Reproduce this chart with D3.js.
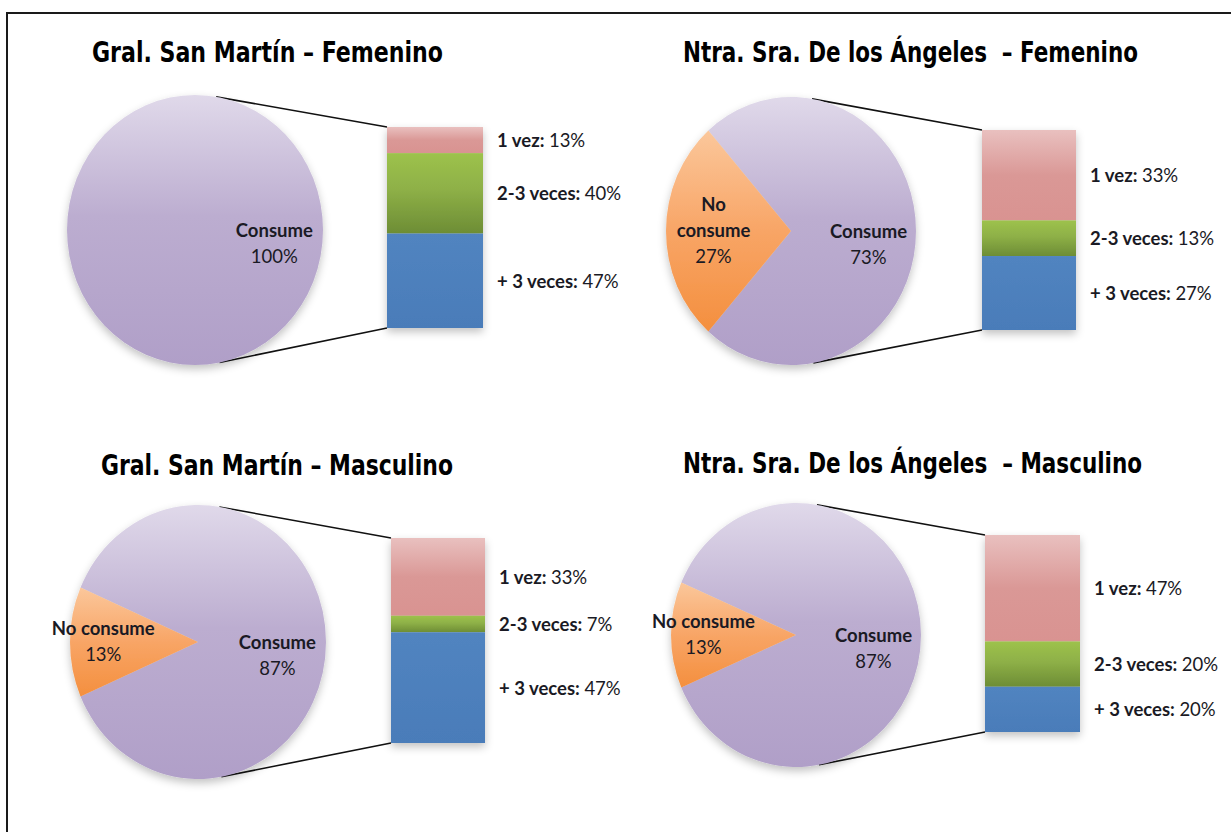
<!DOCTYPE html>
<html>
<head>
<meta charset="utf-8">
<script src="https://cdn.jsdelivr.net/npm/d3@7"></script>
<style>
  html, body { margin: 0; padding: 0; background: #fff; }
  svg { display: block; }
  .title { font-family: "Liberation Sans Narrow", "DejaVu Sans Condensed", sans-serif; font-weight: bold; font-size: 28px; fill: #000; white-space: pre; }
  .lbl { font-family: Lato, "Open Sans", sans-serif; font-size: 18.5px; fill: #1a1a24; }
</style>
</head>
<body>
<svg id="chart" width="1231" height="832" viewBox="0 0 1231 832"></svg>
<script>
const chartTitles = [
  "Gral. San Martín – Femenino",
  "Ntra. Sra. De los Ángeles  – Femenino",
  "Gral. San Martín – Masculino",
  "Ntra. Sra. De los Ángeles  – Masculino"
];
const pieCategories = ["Consume", "No consume"];
const pieValues = [[100, 0], [73, 27], [87, 13], [87, 13]];
const barCategories = ["1 vez", "2-3 veces", "+ 3 veces"];
const barValues = [[13, 40, 47], [33, 13, 27], [33, 7, 47], [47, 20, 20]];
// "No consume" is split over two lines in the second chart
const wrappedLabels = [false, true, false, false];

// layout of the four panels (pie ellipse, bar box, title)
const panels = [
  { cx: 195, cy: 230, rx: 128, ry: 135, bar: [387, 127, 483, 328], titleX: 92, titleY: 62, titleW: 351 },
  { cx: 791, cy: 231, rx: 125, ry: 134, bar: [982, 130, 1076, 330], titleX: 683, titleY: 62, titleW: 455 },
  { cx: 198, cy: 642, rx: 128, ry: 137, bar: [391, 538, 485, 743], titleX: 101, titleY: 475, titleW: 352 },
  { cx: 796, cy: 635, rx: 125, ry: 132, bar: [985, 535, 1080, 732], titleX: 683, titleY: 473, titleW: 459 }
];

const pieFills = ["url(#gPurple)", "url(#gOrange)"];
const barFills = ["url(#gPink)", "url(#gGreen)", "url(#gBlue)"];
const labelDrop = { "Consume": 14, "No consume": 0 };
const lineHeight = 26;

const svg = d3.select("#chart");
const defs = svg.append("defs");

function addGradient(id, stops) {
  const grad = defs.append("linearGradient")
    .attr("id", id)
    .attr("x1", 0).attr("y1", 0)
    .attr("x2", 0).attr("y2", 1);
  grad.selectAll("stop")
    .data(stops)
    .join("stop")
    .attr("offset", d => d[0])
    .attr("stop-color", d => d[1]);
}

addGradient("gPurple", [[0, "#e0d9ea"], [0.45, "#bcadd0"], [1, "#b09fc8"]]);
addGradient("gOrange", [[0, "#fbc79b"], [0.5, "#f8a566"], [1, "#f48f3e"]]);
addGradient("gPink", [[0, "#e9c0bf"], [0.5, "#da9896"], [1, "#d99391"]]);
addGradient("gGreen", [[0, "#9dc24c"], [0.45, "#8eb047"], [1, "#6d8d35"]]);
addGradient("gBlue", [[0, "#5184c0"], [1, "#4a7cb9"]]);

const shadow = defs.append("filter")
  .attr("id", "shadow")
  .attr("x", "-20%").attr("y", "-20%")
  .attr("width", "140%").attr("height", "150%");
shadow.append("feDropShadow")
  .attr("dx", 0).attr("dy", 4)
  .attr("stdDeviation", 4)
  .attr("flood-color", "#000")
  .attr("flood-opacity", 0.24);

// frame (right and bottom sides fall outside the picture)
svg.append("rect")
  .attr("x", 7).attr("y", 13)
  .attr("width", 1260).attr("height", 860)
  .attr("fill", "none")
  .attr("stroke", "#1a1a1a")
  .attr("stroke-width", 2);

function tangentPoint(p, X, Y, upper) {
  const px = (X - p.cx) / p.rx;
  const py = (Y - p.cy) / p.ry;
  const phi = Math.atan2(py, px);
  const alpha = Math.acos(1 / Math.hypot(px, py));
  const theta = upper ? phi - alpha : phi + alpha;
  return [p.cx + p.rx * Math.cos(theta), p.cy + p.ry * Math.sin(theta)];
}

panels.forEach((p, i) => {
  const g = svg.append("g");
  const values = pieValues[i];
  const total = d3.sum(values);
  const consumeShare = values[0] / total;
  const start = Math.PI / 2 - consumeShare * Math.PI;

  g.append("text")
    .attr("class", "title")
    .attr("x", p.titleX)
    .attr("y", p.titleY)
    .attr("textLength", p.titleW)
    .attr("lengthAdjust", "spacingAndGlyphs")
    .text(chartTitles[i]);

  // connector lines, tangent to the ellipse from the bar corners
  const [bx0, by0, bx1, by1] = p.bar;
  const top = tangentPoint(p, bx0, by0, true);
  const bottom = tangentPoint(p, bx0, by1, false);
  g.append("g")
    .selectAll("line")
    .data([[top, [bx0, by0]], [bottom, [bx0, by1]]])
    .join("line")
    .attr("x1", d => d[0][0]).attr("y1", d => d[0][1])
    .attr("x2", d => d[1][0]).attr("y2", d => d[1][1])
    .attr("stroke", "#111")
    .attr("stroke-width", 1.6);

  // pie
  const pie = d3.pie()
    .sort(null)
    .value(d => d.value)
    .startAngle(start)
    .endAngle(start + 2 * Math.PI);
  const slices = pie(pieCategories.map((name, k) => ({ name, value: values[k], k })))
    .filter(d => d.data.value > 0);
  const arc = d3.arc().innerRadius(0).outerRadius(p.rx);

  g.append("g")
    .attr("filter", "url(#shadow)")
    .append("g")
    .attr("transform", `translate(${p.cx},${p.cy}) scale(1,${p.ry / p.rx})`)
    .selectAll("path")
    .data(slices)
    .join("path")
    .attr("d", arc)
    .attr("fill", d => pieFills[d.data.k]);

  // pie labels
  slices.forEach(d => {
    const mid = (d.startAngle + d.endAngle) / 2;
    const k = (d.endAngle - d.startAngle) < 1 ? 0.74 : 0.62;
    const x = p.cx + k * p.rx * Math.sin(mid);
    const yc = p.cy - k * p.ry * Math.cos(mid) + labelDrop[d.data.name];
    const pct = Math.round(d.data.value / total * 100) + "%";
    const nameLines = (wrappedLabels[i] && d.data.k === 1) ? d.data.name.split(" ") : [d.data.name];
    const lines = nameLines.map(t => ({ t, bold: true })).concat([{ t: pct, bold: false }]);
    const y0 = yc - (lines.length - 1) * lineHeight / 2 + 6;
    g.append("g")
      .selectAll("text")
      .data(lines)
      .join("text")
      .attr("class", "lbl")
      .attr("font-weight", l => l.bold ? "bold" : "normal")
      .attr("x", x)
      .attr("y", (l, j) => y0 + j * lineHeight)
      .attr("text-anchor", "middle")
      .text(l => l.t);
  });

  // bar of the "Consume" slice
  const bars = barValues[i];
  const yScale = d3.scaleLinear().domain([0, d3.sum(bars)]).range([by0, by1]);
  const cumulative = d3.cumsum(bars);
  const segs = bars.map((v, k) => ({ name: barCategories[k], value: v, k, y0: cumulative[k] - v, y1: cumulative[k] }));

  g.append("g")
    .attr("filter", "url(#shadow)")
    .selectAll("rect")
    .data(segs)
    .join("rect")
    .attr("x", bx0)
    .attr("width", bx1 - bx0)
    .attr("y", d => yScale(d.y0))
    .attr("height", d => yScale(d.y1) - yScale(d.y0))
    .attr("fill", d => barFills[d.k]);

  const labels = g.append("g")
    .selectAll("text")
    .data(segs)
    .join("text")
    .attr("class", "lbl")
    .attr("x", bx1 + 14)
    .attr("y", d => (yScale(d.y0) + yScale(d.y1)) / 2 + 7);
  labels.append("tspan")
    .attr("font-weight", "bold")
    .text(d => d.name + ": ");
  labels.append("tspan")
    .text(d => d.value + "%");
});
</script>
</body>
</html>
